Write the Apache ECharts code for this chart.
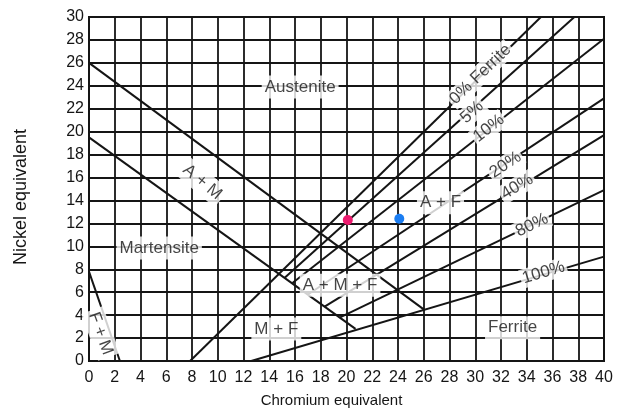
<!DOCTYPE html>
<html><head><meta charset="utf-8">
<script src="https://cdn.jsdelivr.net/npm/echarts@6/dist/echarts.min.js"></script>
<style>html,body{margin:0;padding:0;background:#fff}#c{width:618px;height:414px}</style>
</head><body><div id="c"></div>
<script>
// ---- data ----
const crTicks = [0,2,4,6,8,10,12,14,16,18,20,22,24,26,28,30,32,34,36,38,40];
const niTicks = [0,2,4,6,8,10,12,14,16,18,20,22,24,26,28,30];

const upperAMLine = [[0,26],[26,4.5]];
const lowerAMLine = [[0,19.5],[20.7,2.8]];
const fmLine = [[0,7.8],[2.4,0]];
const ferrite0 = [[7.85,0],[35.1,30]];
const ferrite5 = [[15.2,7.25],[37.7,30]];
const ferrite10 = [[15.8,6.8],[40,28.1]];
const ferrite20 = [[17.0,5.8],[40,22.9]];
const ferrite40 = [[18.3,4.75],[40,19.7]];
const ferrite80 = [[19.5,3.8],[40,14.9]];
const ferrite100 = [[12.6,0],[40,9.1]];

const magentaPoint = [20.1,12.3];
const bluePoint = [24.1,12.4];

const regionTexts = ['Austenite','A + M','Martensite','F + M','A + M + F','M + F','A + F','Ferrite'];
const regionAnchors = [[16.4,23.9],[8.8,15.6],[5.45,9.85],[0.9,2.4],[19.5,6.6],[14.55,2.8],[27.3,13.8],[32.9,2.9]];
const ferriteTexts = ['0% Ferrite','5%','10%','20%','40%','80%','100%'];
const ferriteAnchors = [[30.4,25.0],[29.75,21.7],[31.05,20.3],[32.35,17.1],[33.25,15.2],[34.4,11.85],[35.3,7.7]];
// ---- styles ----
const regionRot = [0,-40,0,-70,0,0,0,0];
const ferriteRot = [44,42,38,34,31,26,17];
const FONT = '"Liberation Sans", Arial, Helvetica, sans-serif';
const INK = '#151515';

const lineSets = [upperAMLine, lowerAMLine, fmLine, ferrite0, ferrite5, ferrite10, ferrite20, ferrite40, ferrite80, ferrite100];
const series = lineSets.map(d => ({
  type:'line', data:d, symbol:'none', silent:true, z:3,
  lineStyle:{color:INK, width:2}
}));
function labelSeries(texts, anchors, rots, pad){
  return {
    type:'scatter', symbolSize:0, z:10, silent:true,
    data: texts.map((t,i)=>({value:[anchors[i][0],anchors[i][1]], name:t, label:{rotate:rots[i]}})),
    label:{show:true, position:'inside', formatter:p=>p.name, color:INK, fontSize:17, fontFamily:FONT,
      backgroundColor:'#fff', padding:pad}
  };
}
series.push(labelSeries(regionTexts, regionAnchors, regionRot, [3,3]));
series.push(labelSeries(ferriteTexts, ferriteAnchors, ferriteRot, [1,2]));
series.push({type:'scatter', z:20, symbolSize:10, data:[magentaPoint], itemStyle:{color:'#ec1a6e', opacity:1}});
series.push({type:'scatter', z:20, symbolSize:10, data:[bluePoint], itemStyle:{color:'#1b7df2', opacity:1}});

const chart = echarts.init(document.getElementById('c'), null, {renderer:'canvas'});
chart.setOption({
  animation:false,
  backgroundColor:'#fff',
  grid:{left:89, right:14, top:17, bottom:53, show:true, borderColor:INK, borderWidth:2, backgroundColor:'transparent'},
  xAxis:{type:'value', min:crTicks[0], max:crTicks[crTicks.length-1], interval:crTicks[1]-crTicks[0],
    name:'Chromium equivalent', nameLocation:'middle', nameGap:32,
    nameTextStyle:{fontSize:15, color:INK, fontFamily:FONT, padding:[0,30,0,0]},
    axisLine:{show:true, lineStyle:{color:INK, width:2}}, axisTick:{show:false},
    axisLabel:{fontSize:16, color:INK, fontFamily:FONT, margin:9},
    splitLine:{show:true, lineStyle:{color:INK, width:1.8}}},
  yAxis:{type:'value', min:niTicks[0], max:niTicks[niTicks.length-1], interval:niTicks[1]-niTicks[0],
    name:'Nickel equivalent', nameLocation:'middle', nameGap:59, nameRotate:90,
    nameTextStyle:{fontSize:18, color:INK, fontFamily:FONT, padding:[0,16,0,0]},
    axisLine:{show:true, lineStyle:{color:INK, width:2}}, axisTick:{show:false},
    axisLabel:{fontSize:16, color:INK, fontFamily:FONT, margin:5},
    splitLine:{show:true, lineStyle:{color:INK, width:1.8}}},
  series
});
</script></body></html>
